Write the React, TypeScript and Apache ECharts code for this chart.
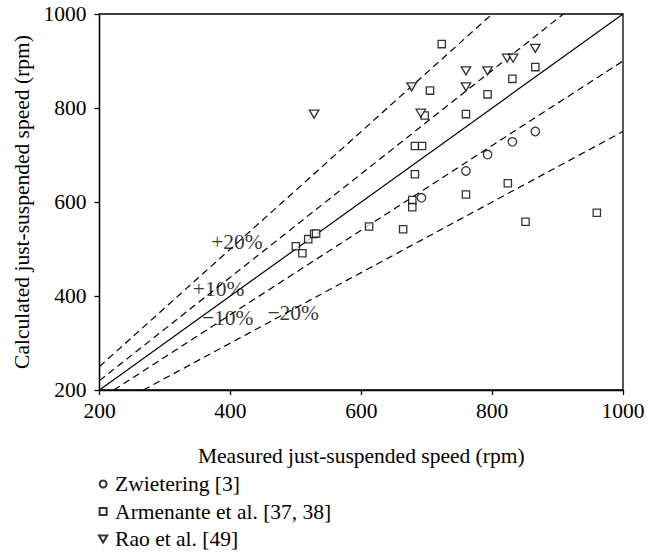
import React, { useEffect, useRef } from "react";
import * as echarts from "echarts";

// Axis ticks
const axisMin = 200;
const axisMax = 1000;
const axisStep = 200;

// Data: [measured, calculated]
const zwietering: number[][] = [
  [692, 609], [760, 666], [793, 701], [831, 728], [866, 750],
];
const armenante: number[][] = [
  [500, 506], [510, 491], [519, 521], [528, 532], [531, 533],
  [612, 548], [664, 542], [678, 604], [678, 589], [682, 659],
  [682, 719], [693, 719], [697, 784], [705, 837], [723, 936],
  [760, 787], [760, 616], [793, 829], [824, 640], [831, 862],
  [851, 558], [866, 887], [960, 577],
];
const rao: number[][] = [
  [528, 787], [677, 845], [691, 789], [760, 879], [760, 845],
  [793, 879], [823, 906], [832, 906], [866, 927],
];

// Reference lines (endpoints in rpm)
const parity: number[][] = [[200, 200], [1000, 1000]];
const plus20: number[][] = [[200, 250], [800, 1000]];
const plus10: number[][] = [[200, 220], [909, 1000]];
const minus10: number[][] = [[222, 200], [1000, 900]];
const minus20: number[][] = [[267, 200], [1000, 750]];

// Line labels: [x, y, text]
const lineLabels: (number | string)[][] = [
  [410, 515, "+20%"],
  [382, 415, "+10%"],
  [396, 353, "\u221210%"],
  [496, 364, "\u221220%"],
];

const seriesNames = ["Zwietering [3]", "Armenante et al. [37, 38]", "Rao et al. [49]"];

const FONT = "'Liberation Serif', 'Times New Roman', serif";
const FS = 21.5;
const triDown = "path://M0,0 L10,0 L5,8.5 Z";
const squarePath = "path://M0,0 L10,0 L10,10 L0,10 Z";

export default function App() {
  const ref = useRef<HTMLDivElement>(null);
  useEffect(() => {
    if (!ref.current) return;
    const chart = echarts.init(ref.current, undefined, { renderer: "svg" });
    const markerStyle = { color: "#fff", borderColor: "#000", borderWidth: 1.3 };
    const dashed = (data: number[][]) => ({
      type: "line",
      data,
      symbol: "none",
      silent: true,
      lineStyle: { color: "#000", width: 1.2, type: [7, 4.5] },
      z: 1,
    });
    chart.setOption({
      animation: false,
      backgroundColor: "#fff",
      textStyle: { fontFamily: FONT },
      grid: {
        left: 99.5, right: 33, top: 14, bottom: 162,
        show: true, borderColor: "#000", borderWidth: 1.3,
      },
      legend: {
        data: [
          { name: seriesNames[0], icon: "circle" },
          { name: seriesNames[1], icon: squarePath },
          { name: seriesNames[2], icon: triDown },
        ],
        orient: "vertical",
        left: 98,
        top: 473,
        height: 79,
        padding: 0,
        itemWidth: 14,
        itemHeight: 7,
        itemGap: 5.5,
        symbolKeepAspect: true,
        textStyle: { fontFamily: FONT, fontSize: FS, color: "#000", lineHeight: 21 },
        selectedMode: false,
      },
      xAxis: {
        type: "value",
        min: axisMin, max: axisMax, interval: axisStep,
        name: "Measured just-suspended speed (rpm)",
        nameLocation: "middle",
        nameGap: 55,
        nameTextStyle: { fontFamily: FONT, fontSize: FS, color: "#000" },
        axisLine: { show: true, lineStyle: { color: "#000", width: 1.3 } },
        axisTick: { show: true, inside: false, length: 5, lineStyle: { color: "#000", width: 1.3 } },
        axisLabel: {
          fontFamily: FONT, fontSize: FS, color: "#000", margin: 10,
          formatter: (v: number) => String(v),
        },
        splitLine: { show: false },
      },
      yAxis: {
        type: "value",
        min: axisMin, max: axisMax, interval: axisStep,
        name: "Calculated just-suspended speed (rpm)",
        nameLocation: "middle",
        nameGap: 60,
        nameTextStyle: { fontFamily: FONT, fontSize: FS, color: "#000" },
        axisLine: { show: true, lineStyle: { color: "#000", width: 1.3 } },
        axisTick: { show: true, inside: false, length: 5, lineStyle: { color: "#000", width: 1.3 } },
        axisLabel: {
          fontFamily: FONT, fontSize: FS, color: "#000", margin: 13,
          formatter: (v: number) => String(v),
        },
        splitLine: { show: false },
      },
      series: [
        {
          type: "line", data: parity, symbol: "none", silent: true,
          lineStyle: { color: "#000", width: 1.2 }, z: 1,
        },
        dashed(plus20),
        dashed(plus10),
        dashed(minus10),
        dashed(minus20),
        {
          type: "scatter",
          data: lineLabels,
          symbolSize: 0,
          silent: true,
          z: 3,
          itemStyle: { color: "#000" },
          label: {
            show: true,
            position: "inside",
            formatter: (p: any) => String(p.value[2]),
            fontFamily: FONT,
            fontSize: FS,
            color: "#000",
            textBorderWidth: 0,
            textBorderColor: "transparent",
          },
        },
        {
          name: seriesNames[0], type: "scatter", data: zwietering,
          symbol: "circle", symbolSize: 8.5, itemStyle: markerStyle, z: 5,
        },
        {
          name: seriesNames[1], type: "scatter", data: armenante,
          symbol: "rect", symbolSize: 7.3, itemStyle: markerStyle, z: 5,
        },
        {
          name: seriesNames[2], type: "scatter", data: rao,
          symbol: triDown, symbolSize: [9.5, 8], symbolKeepAspect: false,
          itemStyle: markerStyle, z: 5,
        },
      ],
    });
    return () => chart.dispose();
  }, []);
  return (
    <div
      ref={ref}
      style={{ position: "fixed", left: 0, top: 0, width: 656, height: 552, background: "#fff" }}
    />
  );
}
